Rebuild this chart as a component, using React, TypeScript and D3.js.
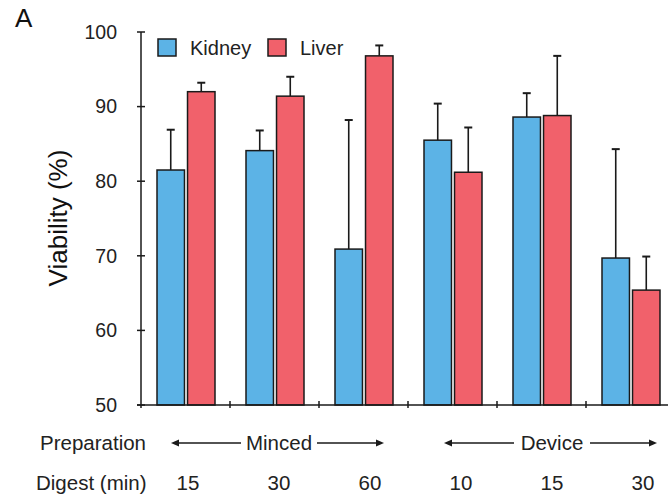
import React from "react";
import * as d3 from "d3";

const digestLabels = ["15", "30", "60", "10", "15", "30"];
const categories = ["Minced 15", "Minced 30", "Minced 60", "Device 10", "Device 15", "Device 30"];
const seriesNames = ["Kidney", "Liver"];
const kidneyValues = [81.5, 84.1, 70.9, 85.5, 88.6, 69.7];
const kidneyErrors = [5.4, 2.7, 17.3, 4.9, 3.2, 14.6];
const liverValues = [92.0, 91.4, 96.8, 81.2, 88.8, 65.4];
const liverErrors = [1.2, 2.6, 1.4, 6.0, 8.0, 4.5];
const yTicks = [50, 60, 70, 80, 90, 100];
const preparationGroups = [
  { name: "Minced", from: 0, to: 2 },
  { name: "Device", from: 3, to: 5 },
];

const W = 668;
const H = 498;
const FONT = "'Liberation Sans', Arial, sans-serif";
const COLORS = ["#5CB3E6", "#F1616B"];
const STROKE = "#1a1a1a";

export default function App() {
  const x0 = d3.scaleBand<string>().domain(categories).range([141, 675]).paddingInner(0).paddingOuter(0);
  const x1 = d3.scaleBand<string>().domain(seriesNames).range([16, 74]).paddingInner(0.1).paddingOuter(0);
  const y = d3.scaleLinear().domain([50, 100]).range([405, 32]);
  const labelX = d3.scalePoint<string>().domain(categories).range([188, 643]);

  const series = [
    { name: "Kidney", values: kidneyValues, errors: kidneyErrors, color: COLORS[0] },
    { name: "Liver", values: liverValues, errors: liverErrors, color: COLORS[1] },
  ];

  const axisX = 141;
  const baseY = y(50);
  const bottomFont = 20.5;

  const arrowHead = (xTip: number, yy: number, dir: number) => {
    const l = 8, h = 3.5;
    return `M${xTip},${yy} L${xTip - dir * l},${yy - h} L${xTip - dir * l},${yy + h} Z`;
  };

  return (
    <div style={{ position: "absolute", left: 0, top: 0 }}>
      <svg width={W} height={H} style={{ display: "block", background: "#fff" }} fontFamily={FONT}>
        <text x={15} y={27} fontSize={26} fill="#111">A</text>

        {/* y label */}
        <text
          transform={`translate(67,218) rotate(-90)`}
          textAnchor="middle"
          fontSize={26}
          fill="#111"
        >
          Viability (%)
        </text>

        {/* bars */}
        {series.map((s) =>
          categories.map((c, i) => {
            const bx = (x0(c) as number) + (x1(s.name) as number);
            const bw = x1.bandwidth();
            const top = y(s.values[i]);
            const errTop = y(s.values[i] + s.errors[i]);
            const cx = bx + bw / 2;
            return (
              <g key={s.name + c}>
                <line x1={cx} x2={cx} y1={top} y2={errTop} stroke={STROKE} strokeWidth={1.6} />
                <line x1={cx - 4} x2={cx + 4} y1={errTop} y2={errTop} stroke={STROKE} strokeWidth={2} />
                <rect x={bx} y={top} width={bw} height={baseY - top} fill={s.color} stroke={STROKE} strokeWidth={1.5} />
              </g>
            );
          })
        )}

        {/* y axis */}
        <line x1={axisX} x2={axisX} y1={y(100)} y2={baseY + 3} stroke={STROKE} strokeWidth={1.5} />
        {yTicks.map((t) => (
          <g key={t}>
            <line x1={axisX - 4} x2={axisX + 4} y1={y(t)} y2={y(t)} stroke={STROKE} strokeWidth={1.5} />
            <text x={117} y={y(t)} dy="0.35em" textAnchor="end" fontSize={19.5} fill="#222">
              {t}
            </text>
          </g>
        ))}

        {/* x axis */}
        <line x1={axisX - 4} x2={W} y1={baseY} y2={baseY} stroke={STROKE} strokeWidth={1.5} />
        {categories.slice(1).map((c) => (
          <line key={c} x1={x0(c) as number} x2={x0(c) as number} y1={baseY - 4} y2={baseY + 3} stroke={STROKE} strokeWidth={1.5} />
        ))}

        {/* legend */}
        {series.map((s, i) => {
          const lx = i === 0 ? 158 : 268;
          return (
            <g key={s.name}>
              <rect x={lx} y={39} width={18} height={17} fill={s.color} stroke={STROKE} strokeWidth={1.5} />
              <text x={lx + 32} y={55} fontSize={20} fill="#222">{s.name}</text>
            </g>
          );
        })}

        {/* bottom rows */}
        <text x={40} y={450} fontSize={bottomFont} fill="#222">Preparation</text>
        <text x={36} y={490} fontSize={bottomFont} fill="#222">Digest (min)</text>
        {categories.map((c, i) => (
          <text key={c} x={labelX(c) as number} y={490} textAnchor="middle" fontSize={bottomFont} fill="#222">
            {digestLabels[i]}
          </text>
        ))}
        {preparationGroups.map((g) => {
          const left = (labelX(categories[g.from]) as number) - 17;
          const right = (labelX(categories[g.to]) as number) + 14;
          const mid = (labelX(categories[g.from + 1]) as number);
          const half = 43;
          const ay = 443;
          return (
            <g key={g.name}>
              <line x1={left + 4} x2={mid - half + 5} y1={ay} y2={ay} stroke={STROKE} strokeWidth={1.5} />
              <path d={arrowHead(left, ay, -1)} fill={STROKE} />
              <line x1={mid + half - 5} x2={right - 4} y1={ay} y2={ay} stroke={STROKE} strokeWidth={1.5} />
              <path d={arrowHead(right, ay, 1)} fill={STROKE} />
              <text x={mid} y={450} textAnchor="middle" fontSize={bottomFont} fill="#222">{g.name}</text>
            </g>
          );
        })}
      </svg>
    </div>
  );
}
